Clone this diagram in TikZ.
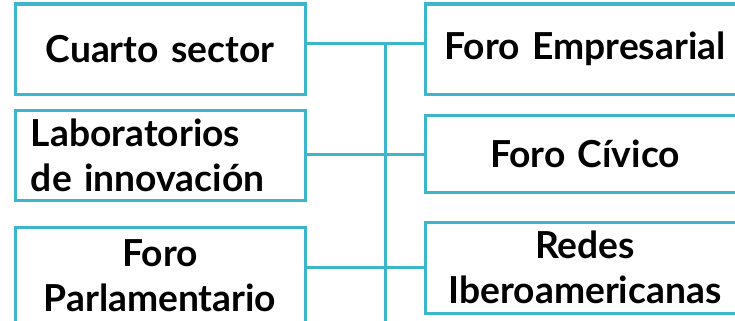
\documentclass[tikz,border=0pt]{standalone}
\usepackage{fontspec}
\setmainfont{Lato}[WordSpace=0.75]
\usepackage{tikz}
\definecolor{linea}{RGB}{61,181,203}
\hyphenpenalty=10000

\tikzset{
  caja/.style={draw=linea, line width=1.5pt, inner xsep=8pt, inner ysep=0pt,
    text width=129pt, align=center,
    font=\fontsize{18.6}{22.5}\selectfont\bfseries},
  cajader/.style={caja, inner xsep=4pt, text width=152pt},
  enlace/.style={draw=linea, line width=1.5pt}
}

\begin{document}
\begin{tikzpicture}[x=0.5pt,y=-0.5pt]
\useasboundingbox (0,0) rectangle (735,321);

% columna izquierda
\node[caja, minimum height=45pt] (cuarto) at (160,49) {Cuarto sector};
\node[caja, minimum height=45pt, align=left] (labs) at (160,155) {Laboratorios\\de innovación};
\node[caja, minimum height=48.5pt] (parl) at (160,275.5) {Foro\\Parlamentario};

% columna derecha
\node[cajader, minimum height=45pt] (empresa) at (585,49) {Foro Empresarial};
\node[cajader, minimum height=38.5pt] (civico) at (585,153.5) {Foro Cívico};
\node[cajader, minimum height=45.5pt] (redes) at (585,267.5) {Redes\\Iberoamericanas};

% tronco vertical
\coordinate (t1) at (385,43);
\coordinate (t2) at (385,154);
\coordinate (t3) at (385,267);
\coordinate (fin) at (385,330);
\draw[enlace] (t1) -- (fin);

% ramas
\draw[enlace] (cuarto.east |- t1) -- (empresa.west |- t1);
\draw[enlace] (labs.east |- t2) -- (civico.west |- t2);
\draw[enlace] (parl.east |- t3) -- (redes.west |- t3);

\end{tikzpicture}
\end{document}
